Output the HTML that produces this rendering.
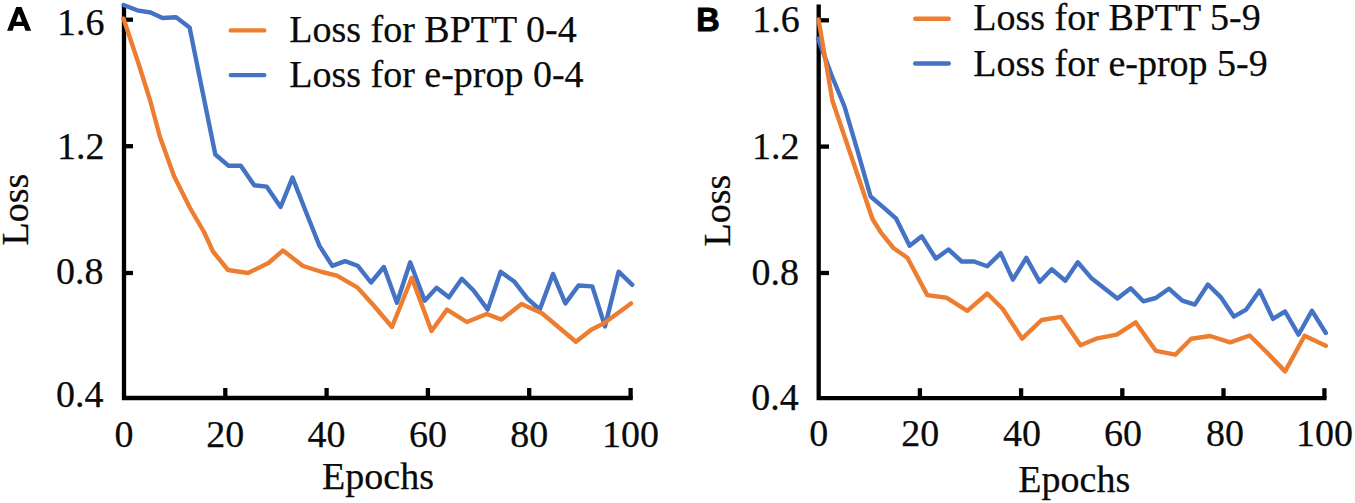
<!DOCTYPE html>
<html><head><meta charset="utf-8"><style>
html,body{margin:0;padding:0;background:#fff;}
body{width:1355px;height:503px;overflow:hidden;}
svg{display:block;}
text{font-family:"Liberation Serif", serif;font-size:38px;fill:#0a0a0a;stroke:#0a0a0a;stroke-width:0.25px;}
text.pl{font-family:"Liberation Sans", sans-serif;font-weight:bold;font-size:35px;fill:#000;stroke:none;}
</style></head><body>
<svg width="1355" height="503" viewBox="0 0 1355 503">
<rect width="1355" height="503" fill="#fff"/>
<path d="M124,4.4 L124,398 L632.8,398" fill="none" stroke="#000" stroke-width="4.3" stroke-linejoin="miter" stroke-linecap="butt"/>
<line x1="124" y1="19.7" x2="133" y2="19.7" stroke="#000" stroke-width="4.3"/>
<line x1="124" y1="146.2" x2="133" y2="146.2" stroke="#000" stroke-width="4.3"/>
<line x1="124" y1="273" x2="133" y2="273" stroke="#000" stroke-width="4.3"/>
<line x1="225.3" y1="398" x2="225.3" y2="388" stroke="#000" stroke-width="4.3"/>
<line x1="326.6" y1="398" x2="326.6" y2="388" stroke="#000" stroke-width="4.3"/>
<line x1="427.9" y1="398" x2="427.9" y2="388" stroke="#000" stroke-width="4.3"/>
<line x1="529.2" y1="398" x2="529.2" y2="388" stroke="#000" stroke-width="4.3"/>
<line x1="630.6" y1="398" x2="630.6" y2="388" stroke="#000" stroke-width="4.3"/>
<path d="M818.7,4.4 L818.7,398.2 L1326.5,398.2" fill="none" stroke="#000" stroke-width="4.3" stroke-linejoin="miter" stroke-linecap="butt"/>
<line x1="818.7" y1="20.3" x2="829" y2="20.3" stroke="#000" stroke-width="4.3"/>
<line x1="818.7" y1="146.6" x2="829" y2="146.6" stroke="#000" stroke-width="4.3"/>
<line x1="818.7" y1="273" x2="829" y2="273" stroke="#000" stroke-width="4.3"/>
<line x1="919.9" y1="398.2" x2="919.9" y2="388.2" stroke="#000" stroke-width="4.3"/>
<line x1="1021.1" y1="398.2" x2="1021.1" y2="388.2" stroke="#000" stroke-width="4.3"/>
<line x1="1122.3" y1="398.2" x2="1122.3" y2="388.2" stroke="#000" stroke-width="4.3"/>
<line x1="1223.5" y1="398.2" x2="1223.5" y2="388.2" stroke="#000" stroke-width="4.3"/>
<line x1="1324.4" y1="398.2" x2="1324.4" y2="388.2" stroke="#000" stroke-width="4.3"/>
<polyline points="123.6,5 137.1,10.3 150.6,12.5 162.5,18 176.1,17.3 189.6,27.4 202,89 215.3,154.5 228.4,165.7 240.8,165.7 254.2,185.3 266.6,186.6 280.6,207 292.5,177.6 306,212 319.5,245.9 332.3,265.9 345.1,261.1 357.6,265.7 371,282.5 383.9,267 396.9,302.7 410.2,262.3 424.7,300.7 436.6,287.7 448.9,297.3 461.8,278.8 473.8,290.7 487.7,309.6 500.6,271.8 514.5,281.8 527.5,298.7 539.8,309.5 553,273.9 565.4,303.4 578.5,285.5 592.3,286.4 605,326.4 618.6,271.7 632.3,284.8" fill="none" stroke="#4472C4" stroke-width="4.4" stroke-linejoin="round" stroke-linecap="round"/>
<polyline points="123.5,18.5 139,65 150,100 160,137 174,176 190,208 204,232 213,251.5 228,270 248,273 268.5,263 283,250.5 303,266 322,272 337,275.6 357.6,287.6 373.7,305.5 392,327 411.8,277.8 431.5,331 447,309.6 466.8,322 486.7,314 501.6,319.6 521.5,304 542,313.3 575.9,341.7 591.2,329.7 604.3,323.1 631,303.4" fill="none" stroke="#ED7D31" stroke-width="4.4" stroke-linejoin="round" stroke-linecap="round"/>
<polyline points="818,38.5 831.5,75 844.5,106.5 857.6,151 870.6,196.5 883.7,207.6 896.2,218.7 909.6,245.8 921.8,236.3 935.8,258.6 948.5,249.5 961.7,261.5 974,261.5 987.3,266.2 1000.7,253.2 1012.9,279.6 1026.3,257.9 1039.7,281.8 1051.7,269.3 1065.3,280.7 1077.8,262.3 1091.2,277.9 1104.3,288.2 1117.4,298.5 1130.7,288.2 1143.3,301.3 1155.8,298 1168.9,288.7 1182.3,300.7 1194.8,304.6 1207.9,284.5 1220.7,297.1 1233.8,316.6 1246.2,309.6 1259.6,290.6 1272.9,318.9 1285.1,311.5 1298.5,334.7 1311.9,310.7 1325.8,333" fill="none" stroke="#4472C4" stroke-width="4.4" stroke-linejoin="round" stroke-linecap="round"/>
<polyline points="818.5,19.5 832.5,101 872.5,219 881,232.7 893.4,248 907.4,257.7 927.3,295.1 946.8,297.8 967.3,310.8 987.3,293.5 1002.6,308.8 1022.1,338.6 1041.6,320 1061.1,316.9 1080.6,345.3 1097.3,338.3 1116.8,334.7 1135.7,322.4 1155.8,350.8 1175.3,354.7 1191.2,338.8 1210.1,336 1230.2,342.4 1249.7,335.5 1267.2,352.8 1285.1,371.4 1304.6,335.8 1325.8,345.8" fill="none" stroke="#ED7D31" stroke-width="4.4" stroke-linejoin="round" stroke-linecap="round"/>
<line x1="230.8" y1="30.4" x2="264.3" y2="30.4" stroke="#ED7D31" stroke-width="4.4" stroke-linecap="round"/>
<line x1="230.8" y1="75.1" x2="264.3" y2="75.1" stroke="#4472C4" stroke-width="4.4" stroke-linecap="round"/>
<line x1="915.2" y1="18.8" x2="948.8" y2="18.8" stroke="#ED7D31" stroke-width="4.4" stroke-linecap="round"/>
<line x1="915.2" y1="63.5" x2="948.8" y2="63.5" stroke="#4472C4" stroke-width="4.4" stroke-linecap="round"/>
<g>
<text x="57" y="35" text-anchor="start" >1.6</text>
<text x="57" y="159.3" text-anchor="start" >1.2</text>
<text x="56" y="283.8" text-anchor="start" >0.8</text>
<text x="56" y="407.3" text-anchor="start" >0.4</text>
<text x="752.3" y="32.3" text-anchor="start" >1.6</text>
<text x="752" y="158.8" text-anchor="start" >1.2</text>
<text x="751.4" y="285.3" text-anchor="start" >0.8</text>
<text x="751.2" y="410.3" text-anchor="start" >0.4</text>
<text x="124" y="446.5" text-anchor="middle" >0</text>
<text x="225.3" y="446.5" text-anchor="middle" >20</text>
<text x="326.6" y="446.5" text-anchor="middle" >40</text>
<text x="427.9" y="446.5" text-anchor="middle" >60</text>
<text x="529.2" y="446.5" text-anchor="middle" >80</text>
<text x="630.6" y="446.5" text-anchor="middle" >100</text>
<text x="818.7" y="446" text-anchor="middle" >0</text>
<text x="920.2" y="446" text-anchor="middle" >20</text>
<text x="1021.9" y="446" text-anchor="middle" >40</text>
<text x="1123.1" y="446" text-anchor="middle" >60</text>
<text x="1225" y="446" text-anchor="middle" >80</text>
<text x="1324.4" y="446" text-anchor="middle" >100</text>
<text x="322.1" y="488.6" text-anchor="start" >Epochs</text>
<text x="1018.3" y="492" text-anchor="start" >Epochs</text>
<text transform="translate(27.5,209.6) rotate(-90)" text-anchor="middle">Loss</text>
<text transform="translate(730.3,210.5) rotate(-90)" text-anchor="middle">Loss</text>
<text x="289.2" y="41.9" text-anchor="start" >Loss for BPTT 0-4</text>
<text x="289.2" y="87" text-anchor="start" >Loss for e-prop 0-4</text>
<text x="973.3" y="30.1" text-anchor="start" >Loss for BPTT 5-9</text>
<text x="973.3" y="75.9" text-anchor="start" >Loss for e-prop 5-9</text>
</g>
<path d="M7.1,30.7 L16.2,7 L21.5,7 L31.2,30.7 L25.5,30.7 L23.9,26.1 L14,26.1 L12.6,30.7 Z M18.9,13.4 L15.9,21.7 L22.1,21.7 Z" fill="#000" fill-rule="evenodd"/>
<text x="0" y="0" transform="translate(696.2,30.6) scale(0.955,1)" class="pl" style="font-size:34px;stroke:#000;stroke-width:1px">B</text>
</svg>
</body></html>
